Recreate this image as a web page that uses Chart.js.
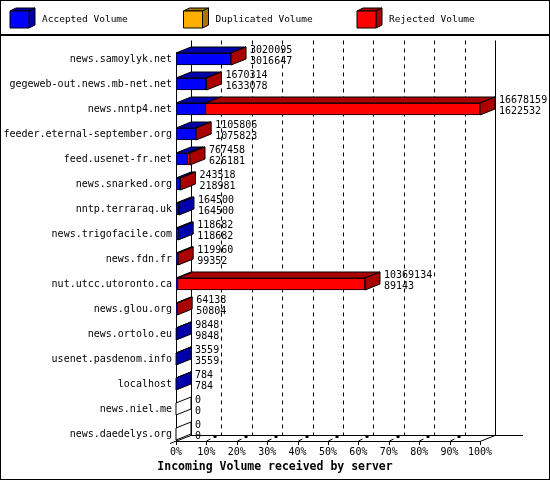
<!DOCTYPE html>
<html lang="en">
<head>
<meta charset="UTF-8">
<title>Incoming Volume received by server</title>
<script src="https://cdn.jsdelivr.net/npm/chart.js"></script>
<style>
    body { margin: 0; padding: 0; background: #fff; }
    canvas { display: block; }
</style>
</head>
<body>
<canvas id="grafico" width="550" height="480"></canvas>
<script>
const servers = [
    'news.samoylyk.net', 'gegeweb-out.news.mb-net.net', 'news.nntp4.net',
    'feeder.eternal-september.org', 'feed.usenet-fr.net', 'news.snarked.org',
    'nntp.terraraq.uk', 'news.trigofacile.com', 'news.fdn.fr', 'nut.utcc.utoronto.ca',
    'news.glou.org', 'news.ortolo.eu', 'usenet.pasdenom.info', 'localhost',
    'news.niel.me', 'news.daedelys.org'
];
const totalVolume = [3020095, 1670314, 16678159, 1105806, 767458, 243518, 164500, 118682,
    119960, 10369134, 64138, 9848, 3559, 784, 0, 0];
const acceptedVolume = [3016647, 1633078, 1622532, 1075823, 626181, 218981, 164500, 118682,
    99352, 89143, 50804, 9848, 3559, 784, 0, 0];
const duplicatedVolume = [0, 0, 0, 0, 0, 0, 0, 0, 0, 0, 0, 0, 0, 0, 0, 0];
const tickPercents = [0, 10, 20, 30, 40, 50, 60, 70, 80, 90, 100];

const seriesNames = ['Accepted Volume', 'Duplicated Volume', 'Rejected Volume'];
const frontColors = ['#0000ff', '#ffaf00', '#ff0000'];
const darkColors = ['#0000aa', '#aa7400', '#aa0000'];

const FONT = '"DejaVu Sans Mono", monospace';
const DX = 15, DY = 6;   // profondeur 3D

const maxVolume = Math.max(...totalVolume);
const pct = v => v / maxVolume * 100;
const rejectedVolume = totalVolume.map((t, i) => t - acceptedVolume[i] - duplicatedVolume[i]);
const series = [acceptedVolume, duplicatedVolume, rejectedVolume];

function poly(ctx, pts, fill) {
    ctx.beginPath();
    ctx.moveTo(pts[0][0], pts[0][1]);
    for (let k = 1; k < pts.length; k++) ctx.lineTo(pts[k][0], pts[k][1]);
    ctx.closePath();
    if (fill) { ctx.fillStyle = fill; ctx.fill(); }
    ctx.strokeStyle = '#000';
    ctx.lineWidth = 1;
    ctx.stroke();
}

function line(ctx, x1, y1, x2, y2) {
    ctx.beginPath();
    ctx.moveTo(x1, y1);
    ctx.lineTo(x2, y2);
    ctx.stroke();
}

const box3d = {
    id: 'box3d',
    beforeDatasetsDraw(chart) {
        const ctx = chart.ctx, xs = chart.scales.x, ys = chart.scales.y;
        const area = chart.chartArea;
        const left = xs.getPixelForValue(0), right = xs.getPixelForValue(100);
        const yFloor = ys.getPixelForValue(servers.length - 1) + 7;
        const yFirst = ys.getPixelForValue(0) - 6;
        const topBack = area.top - DY;
        ctx.save();
        ctx.strokeStyle = '#000';
        ctx.lineWidth = 1;

        // grille pointillée sur le fond
        ctx.setLineDash([4, 4]);
        tickPercents.slice(1, -1).forEach(p => {
            const x = Math.round(xs.getPixelForValue(p) + DX) + 0.5;
            line(ctx, x, topBack, x, yFloor - DY);
        });
        ctx.setLineDash([]);

        // murs et sol
        line(ctx, left + 0.5, yFirst, left + 0.5, yFloor);
        line(ctx, left + DX + 0.5, topBack, left + DX + 0.5, yFloor - DY);
        line(ctx, right + DX + 0.5, topBack, right + DX + 0.5, yFloor - DY);
        line(ctx, left + DX, yFloor - DY + 0.5, right + DX + 28, yFloor - DY + 0.5);
        line(ctx, left, yFloor + 0.5, right + 1, yFloor + 0.5);
        line(ctx, left - 6, yFloor + 2.5, left + DX, yFloor - DY + 0.5);
        line(ctx, right, yFloor + 0.5, right + DX, yFloor - DY + 0.5);

        // graduations
        tickPercents.forEach((p, k) => {
            const x = Math.round(xs.getPixelForValue(p)) + 0.5;
            line(ctx, x, yFloor, x, yFloor + 4);
            if (k > 0 && k < tickPercents.length - 1) {
                line(ctx, x, yFloor, x + 4, yFloor - 2);
                ctx.fillStyle = '#000';
                ctx.fillRect(x + 7, yFloor - 5, 3, 2);
            }
        });
        ctx.restore();
    },
    afterDatasetsDraw(chart) {
        const ctx = chart.ctx, ys = chart.scales.y, xs = chart.scales.x;
        ctx.save();
        servers.forEach((name, i) => {
            const cy = ys.getPixelForValue(i);
            const yTop = cy - 6, yBot = cy + 6;
            let xEnd = xs.getPixelForValue(0);
            let sideColor = '#fff';
            series.forEach((s, d) => {
                if (s[i] <= 0) return;
                const bar = chart.getDatasetMeta(d).data[i];
                const x0 = Math.min(bar.base, bar.x), x1 = Math.max(bar.base, bar.x);
                poly(ctx, [[x0, yTop], [x1, yTop], [x1 + DX, yTop - DY], [x0 + DX, yTop - DY]], darkColors[d]);
                xEnd = x1;
                sideColor = darkColors[d];
            });
            poly(ctx, [[xEnd, yTop], [xEnd + DX, yTop - DY], [xEnd + DX, yBot - DY], [xEnd, yBot]], sideColor);

            ctx.fillStyle = '#000';
            ctx.font = '10px ' + FONT;
            ctx.textAlign = 'left';
            ctx.textBaseline = 'middle';
            ctx.fillText(String(totalVolume[i]), xEnd + DX + 4, cy - 9);
            ctx.fillText(String(acceptedVolume[i]), xEnd + DX + 4, cy + 2);
        });
        ctx.restore();
    },
    afterDraw(chart) {
        const ctx = chart.ctx;
        ctx.save();
        // légende avec cubes
        chart.data.datasets.forEach((ds, d) => {
            const x = 10 + d * 173.5, y = 11, w = 19, h = 17;
            poly(ctx, [[x, y], [x + 6, y - 3], [x + w + 6, y - 3], [x + w, y]], darkColors[d]);
            poly(ctx, [[x + w, y], [x + w + 6, y - 3], [x + w + 6, y + h - 3], [x + w, y + h]], darkColors[d]);
            poly(ctx, [[x, y], [x + w, y], [x + w, y + h], [x, y + h]], frontColors[d]);
            ctx.fillStyle = '#000';
            ctx.font = '9.5px ' + FONT;
            ctx.textAlign = 'left';
            ctx.textBaseline = 'middle';
            ctx.fillText(ds.label, x + 32, 20);
        });
        ctx.strokeStyle = '#000';
        ctx.lineWidth = 2;
        line(ctx, 0, 35, 550, 35);
        ctx.lineWidth = 1;
        ctx.strokeRect(0.5, 0.5, 549, 479);
        ctx.restore();
    }
};

new Chart(document.getElementById('grafico'), {
    type: 'bar',
    data: {
        labels: servers,
        datasets: series.map((s, d) => ({
            label: seriesNames[d],
            data: s.map(pct),
            backgroundColor: frontColors[d],
            borderColor: '#000',
            borderWidth: 1,
            borderSkipped: false,
            barThickness: 12
        }))
    },
    options: {
        indexAxis: 'y',
        responsive: false,
        animation: false,
        devicePixelRatio: 1,
        layout: { padding: { top: 46.5, right: 0, bottom: 0, left: 0 } },
        scales: {
            x: {
                stacked: true,
                min: 0,
                max: 100,
                grid: { display: false, drawTicks: false },
                border: { display: false },
                afterFit(scale) { scale.height = 12; },
                ticks: {
                    stepSize: 10,
                    autoSkip: false,
                    maxRotation: 0,
                    padding: 0,
                    color: '#000',
                    font: { family: FONT, size: 10 },
                    callback: v => v + '%'
                }
            },
            y: {
                stacked: true,
                grid: { display: false, drawTicks: false },
                border: { display: false },
                afterFit(scale) { scale.width = 176; },
                ticks: {
                    autoSkip: false,
                    padding: 4,
                    color: '#000',
                    font: { family: FONT, size: 10 }
                }
            },
            // marge droite pour les valeurs et le mur du fond
            marge: {
                type: 'linear',
                position: 'right',
                grid: { display: false, drawTicks: false },
                border: { display: false },
                ticks: { display: false },
                afterFit(scale) { scale.width = 70; }
            }
        },
        plugins: {
            legend: { display: false },
            tooltip: { enabled: false },
            title: {
                display: true,
                position: 'bottom',
                text: 'Incoming Volume received by server',
                color: '#000',
                font: { family: FONT, size: 11.5, weight: 'bold' },
                padding: { top: 1.5, bottom: 6.2 }
            }
        }
    },
    plugins: [box3d]
});
</script>
</body>
</html>
